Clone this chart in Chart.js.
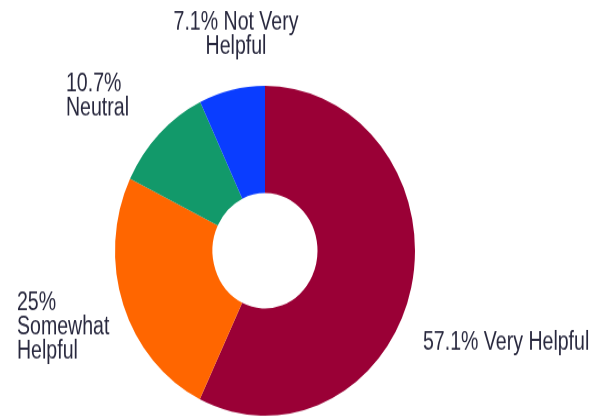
<!DOCTYPE html>
<html lang="en">
  <head>
    <meta charset="UTF-8" />
    <title>Helpfulness</title>
    <script src="https://cdn.jsdelivr.net/npm/chart.js@4.4.1/dist/chart.umd.min.js"></script>
    <style>
      body { margin: 0; background: #fff; overflow: hidden; }
      #wrap { width: 610px; height: 419px; }
      /* the reference is slightly stretched vertically: draw at 381px high, show at 419px */
      #donut { display: block; width: 610px; height: 419px; }
    </style>
  </head>
  <body>
    <div id="wrap">
      <canvas id="donut" width="610" height="381" style="width:610px;height:419px"></canvas>
    </div>

    <script>
      // data
      const categories = ['Very Helpful', 'Somewhat Helpful', 'Neutral', 'Not Very Helpful'];
      const percents = [57.1, 25, 10.7, 7.1];
      const labelLines = [
        ['57.1% Very Helpful'],
        ['25%', 'Somewhat', 'Helpful'],
        ['10.7%', 'Neutral'],
        ['7.1% Not Very', 'Helpful'],
      ];

      const colors = ['#9a0036', '#ff6600', '#12996a', '#0a3dff'];

      // label placement relative to the donut centre (dx, dy of first baseline, align)
      const labelPlace = [
        { dx: 158, dy: 89.5, align: 'left' },
        { dx: -248, dy: 53.8, align: 'left' },
        { dx: -199, dy: -144.6, align: 'left' },
        { dx: -29, dy: -200.7, align: 'center' },
      ];

      // narrow-looking text: regular sans squeezed sideways
      const squeeze = 0.85;

      const outsideLabels = {
        id: 'outsideLabels',
        afterDraw(chart) {
          const ctx = chart.ctx;
          const arc = chart.getDatasetMeta(0).data[0];
          ctx.save();
          ctx.font = '23px "Liberation Sans", Arial, sans-serif';
          ctx.fillStyle = '#28283e';
          ctx.textBaseline = 'alphabetic';
          labelLines.forEach((lines, i) => {
            const p = labelPlace[i];
            ctx.textAlign = p.align;
            lines.forEach((t, j) => {
              ctx.save();
              ctx.translate(arc.x + p.dx, arc.y + p.dy + j * 22);
              ctx.scale(squeeze, 1);
              ctx.fillText(t, 0, 0);
              ctx.restore();
            });
          });
          ctx.restore();
        },
      };

      new Chart(document.getElementById('donut'), {
        type: 'doughnut',
        data: {
          labels: categories,
          datasets: [{
            data: percents,
            backgroundColor: colors,
            borderWidth: 0,
          }],
        },
        options: {
          responsive: false,
          animation: false,
          devicePixelRatio: 1,
          cutout: '35%',
          layout: { padding: { left: 115, right: 195, top: 78, bottom: 3 } },
          plugins: {
            legend: { display: false },
            tooltip: { enabled: false },
          },
        },
        plugins: [outsideLabels],
      });
    </script>
  </body>
</html>
